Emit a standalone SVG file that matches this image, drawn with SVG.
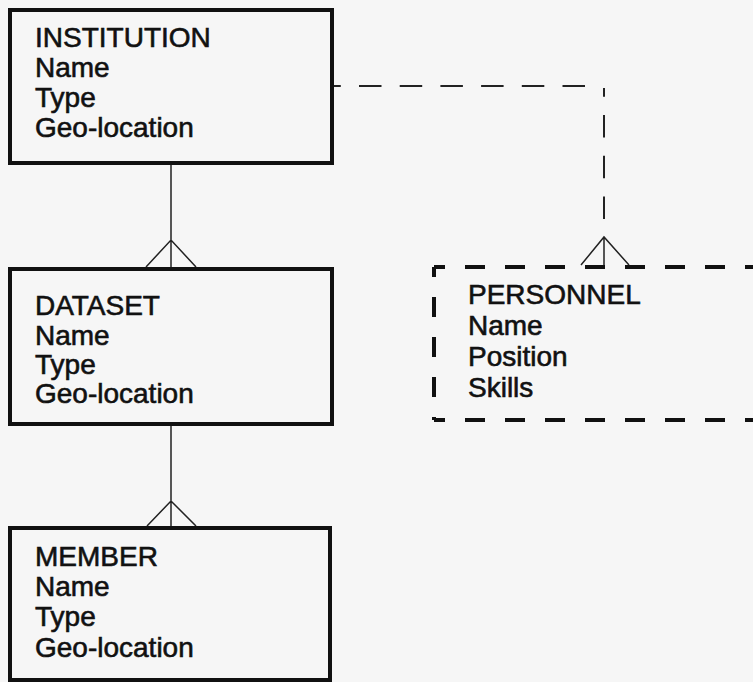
<svg xmlns="http://www.w3.org/2000/svg" width="753" height="682" viewBox="0 0 753 682">
<style>
.bg{fill:#f6f6f6}
.box{fill:none;stroke:#111;stroke-width:4}
.dbox{fill:none;stroke:#111;stroke-width:4;stroke-dasharray:20 20}
.t{font-family:"Liberation Sans",Arial,sans-serif;font-size:28px;fill:#111;stroke:#111;stroke-width:0.6}
.ln{fill:none;stroke:#222;stroke-width:1.5}
.dl{fill:none;stroke:#222;stroke-width:2;stroke-dasharray:22.5 18.2}
</style>
<rect class="bg" x="0" y="0" width="753" height="682"/>
<g id="connectors">
  <path class="ln" d="M171,163 V269 M146,267 L171,240 L196,267"/>
  <path class="ln" d="M171,424 V528 M147,526 L171,501 L196,526"/>
  <path class="dl" d="M333,86 H587" stroke-dashoffset="14.7"/>
  <path class="dl" d="M604,88 V237" stroke-dashoffset="13.7" stroke-width="1.5"/>
  <path class="ln" d="M604,237 V267 M581,265 L604,237 L629,265"/>
</g>
<g id="institution">
  <rect class="box" x="10" y="10" width="322" height="153"/>
  <text class="t" x="35" y="47">INSTITUTION</text>
  <text class="t" x="35" y="77">Name</text>
  <text class="t" x="35" y="106.5">Type</text>
  <text class="t" x="35" y="136.5">Geo-location</text>
</g>
<g id="dataset">
  <rect class="box" x="10" y="269" width="322" height="155"/>
  <text class="t" x="35" y="315">DATASET</text>
  <text class="t" x="35" y="344.5">Name</text>
  <text class="t" x="35" y="374">Type</text>
  <text class="t" x="35" y="403">Geo-location</text>
</g>
<g id="member">
  <rect class="box" x="10" y="528" width="320" height="152"/>
  <text class="t" x="35" y="566">MEMBER</text>
  <text class="t" x="35" y="596">Name</text>
  <text class="t" x="35" y="626">Type</text>
  <text class="t" x="35" y="657">Geo-location</text>
</g>
<g id="personnel">
  <path class="dbox" d="M434,267 H760" stroke-dashoffset="9"/>
  <path class="dbox" d="M434,267 V420" stroke-dashoffset="10"/>
  <path class="dbox" d="M434,420 H760" stroke-dashoffset="9"/>
  <text class="t" x="468" y="304">PERSONNEL</text>
  <text class="t" x="468" y="335">Name</text>
  <text class="t" x="468" y="366">Position</text>
  <text class="t" x="468" y="397">Skills</text>
</g>
</svg>
